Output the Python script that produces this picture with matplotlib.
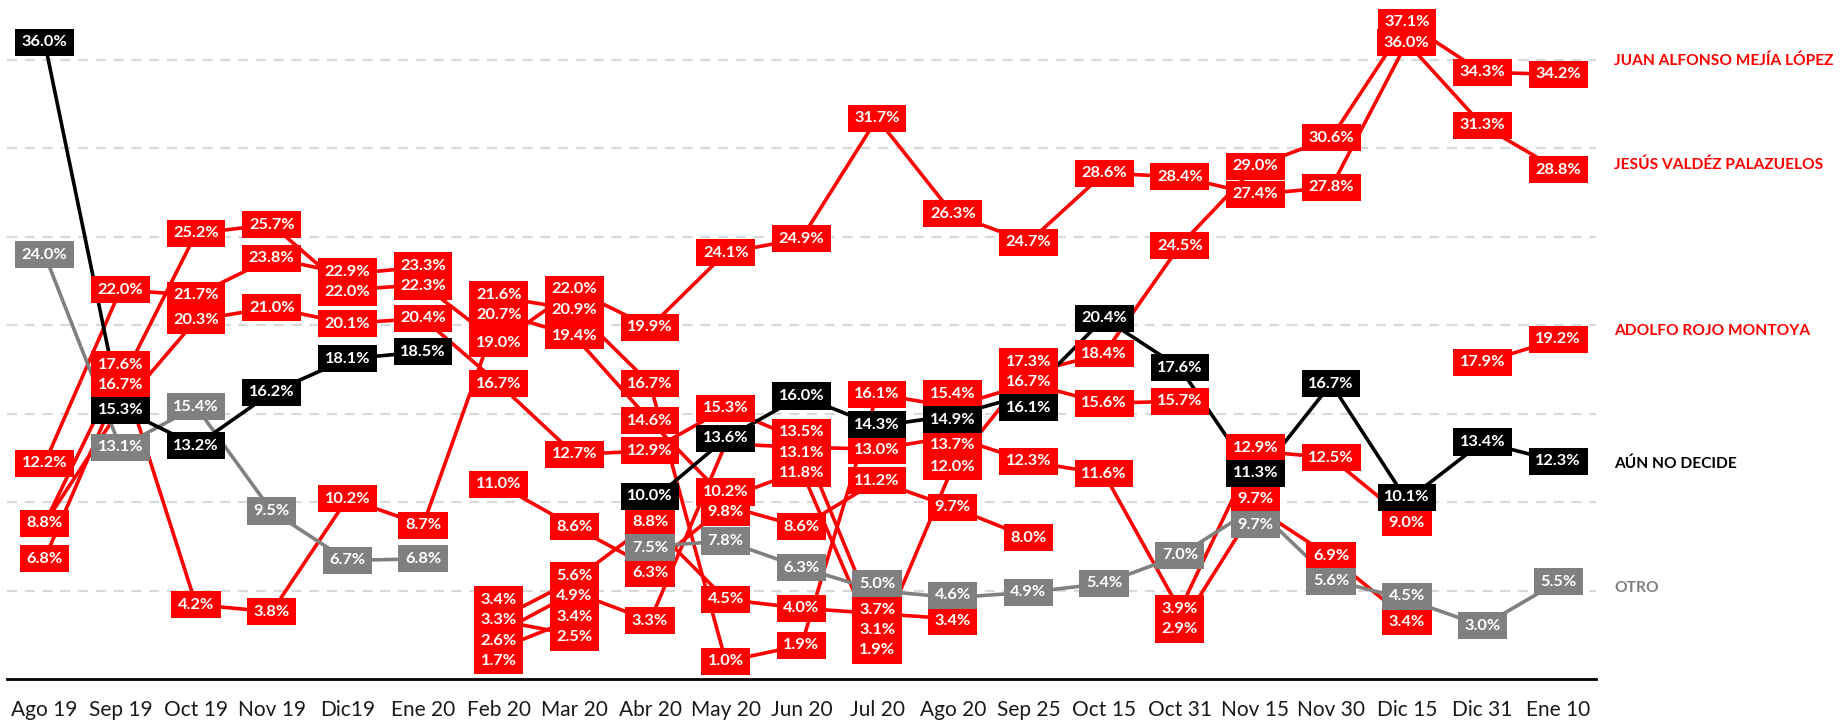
import numpy as np
import matplotlib
matplotlib.use("Agg")
import matplotlib.pyplot as plt

plt.rcParams['font.family'] = ['Lato', 'DejaVu Sans']

# ---------------- data ----------------
categories = ["Ago 19", "Sep 19", "Oct 19", "Nov 19", "Dic19", "Ene 20", "Feb 20",
              "Mar 20", "Abr 20", "May 20", "Jun 20", "Jul 20", "Ago 20", "Sep 25",
              "Oct 15", "Oct 31", "Nov 15", "Nov 30", "Dic 15", "Dic 31", "Ene 10"]

N = None
cand_a = [12.2, 22.0, 21.7, 23.8, 22.9, 23.3] + [N] * 15
jesus_valdez = [6.8, 16.7, 25.2, 25.7, 22.0, 22.3, 19.0, 22.0, 19.9, 24.1, 24.9, 31.7,
                26.3, 24.7, 28.6, 28.4, 27.4, 27.8, 36.0, 31.3, 28.8]
juan_alfonso = [8.8, 17.6, 4.2, 3.8, 10.2, 8.7, 20.7, 19.4, 14.6, 10.2, 11.8, 1.9,
                12.0, 17.3, 18.4, 24.5, 29.0, 30.6, 37.1, 34.3, 34.2]
cand_d = [8.8, 15.3, 20.3, 21.0, 20.1, 20.4, 16.7, 12.7, 12.9, 15.3, 13.5, 3.1] + [N] * 9
cand_e = [N] * 6 + [21.6, 20.9, 16.7, 1.0, 1.9, 16.1, 15.4, 16.7, 15.6, 15.7] + [N] * 5
cand_f = [N] * 6 + [11.0, 8.6, 6.3, 9.8, 8.6, 11.2, 9.7, 8.0] + [N] * 7
cand_g = [N] * 6 + [3.4, 5.6, 8.8, 4.5, 4.0, 3.7, 3.4] + [N] * 8
cand_h = [N] * 6 + [2.6, 4.9, 3.3, 13.3, 13.1, 13.0, 13.7, 12.3, 11.6, 3.9, 12.9, 12.5, 9.0] + [N] * 2
cand_i = [N] * 6 + [3.3, 2.5] + [N] * 13
cand_j = [N] * 6 + [1.7, 3.4] + [N] * 13
cand_k = [N] * 15 + [2.9, 9.7, 6.9, 3.4] + [N] * 2
adolfo_rojo = [N] * 19 + [17.9, 19.2]
aun_no_decide = [36.0, 15.3, 13.2, 16.2, 18.1, 18.5, N, N, 10.0, 13.6, 16.0, 14.3, 14.9,
                 16.1, 20.4, 17.6, 11.3, 16.7, 10.1, 13.4, 12.3]
otro = [24.0, 13.1, 15.4, 9.5, 6.7, 6.8, N, N, 7.5, 7.8, 6.3, 5.0, 4.6, 4.9, 5.4, 7.0,
        9.7, 5.6, 4.5, 3.0, 5.5]

RED, BLACK, GRAY = "#FF0000", "#000000", "#808080"

series = [
    ("a", cand_a, RED), ("jesus", jesus_valdez, RED), ("juan", juan_alfonso, RED),
    ("d", cand_d, RED), ("e", cand_e, RED), ("f", cand_f, RED), ("g", cand_g, RED),
    ("h", cand_h, RED), ("i", cand_i, RED), ("j", cand_j, RED), ("k", cand_k, RED),
    ("adolfo", adolfo_rojo, RED), ("otro", otro, GRAY), ("aun", aun_no_decide, BLACK),
]
# points whose labels sit hidden beneath another label in the original
hidden_labels = {("d", 0), ("d", 1), ("h", 9)}

end_names = [
    ("JUAN ALFONSO MEJÍA LÓPEZ", RED, 34.95),
    ("JESÚS VALDÉZ PALAZUELOS", RED, 29.1),
    ("ADOLFO ROJO MONTOYA", RED, 19.7),
    ("AÚN NO DECIDE", BLACK, 12.15),
    ("OTRO", GRAY, 5.15),
]

# ---------------- figure ----------------
fig = plt.figure(figsize=(18.43, 7.22), dpi=100)
ax = fig.add_axes([0.0037, 0.0596, 0.8623, 0.9307])
x = np.arange(len(categories))

for name, vals, col in series:
    y = np.array([np.nan if v is None else v for v in vals], dtype=float)
    ax.plot(x, y, color=col, lw=2.6, zorder=2, solid_capstyle='butt')

ax.set_xlim(-0.5, len(categories) - 0.5)
ax.set_ylim(0, 38)
ax.set_yticks([5, 10, 15, 20, 25, 30, 35])
ax.yaxis.grid(True, color="#D9D9D9", lw=1.6, ls=(0, (4.5, 3.5)))
ax.set_axisbelow(True)
ax.tick_params(axis='y', length=0, labelleft=False)
ax.set_xticks(x)
ax.set_xticklabels(categories, fontsize=15, color="#1a1a1a")
ax.tick_params(axis='x', length=0, pad=15)
for s in ['top', 'left', 'right']:
    ax.spines[s].set_visible(False)
ax.spines['bottom'].set_color('black')
ax.spines['bottom'].set_linewidth(2)

# ---- data labels with simple vertical de-overlap per column ----
SAME_GAP, DIFF_GAP, LOW = 1.15, 1.45, 0.6
label_pos = {}
for i in range(len(categories)):
    items = []
    for name, vals, col in series:
        v = vals[i]
        if v is None or (name, i) in hidden_labels:
            continue
        items.append([v, v, name, col])
    items.sort(key=lambda t: -t[0])
    for _ in range(300):
        moved = False
        for k in range(len(items) - 1):
            gap = SAME_GAP if items[k][3] == items[k + 1][3] else DIFF_GAP
            diff = items[k][1] - items[k + 1][1]
            if diff < gap - 1e-6:
                sh = (gap - diff) / 2
                items[k][1] += sh
                items[k + 1][1] -= sh
                moved = True
        if items and items[-1][1] < LOW:
            d = LOW - items[-1][1]
            for it in items:
                it[1] += d
            moved = True
        if not moved:
            break
    for v, p, name, col in items:
        label_pos[(name, i)] = p

order = [s for s in series if s[2] == RED] + [s for s in series if s[2] == GRAY] + \
        [s for s in series if s[2] == BLACK]
z = 5
for name, vals, col in order:
    for i, v in enumerate(vals):
        if v is None or (name, i) in hidden_labels:
            continue
        ax.text(i, label_pos[(name, i)], f"{v:.1f}%", ha='center', va='center',
                color='white', fontsize=11.8, fontweight='bold', zorder=z,
                bbox=dict(boxstyle='square,pad=0.4', fc=col, ec='none'))
    z += 1

for text, col, yv in end_names:
    ax.text(20.74, yv, text, ha='left', va='center', color=col, fontsize=11.2,
            fontweight='bold', clip_on=False)

fig.savefig("out.png", dpi=100)
